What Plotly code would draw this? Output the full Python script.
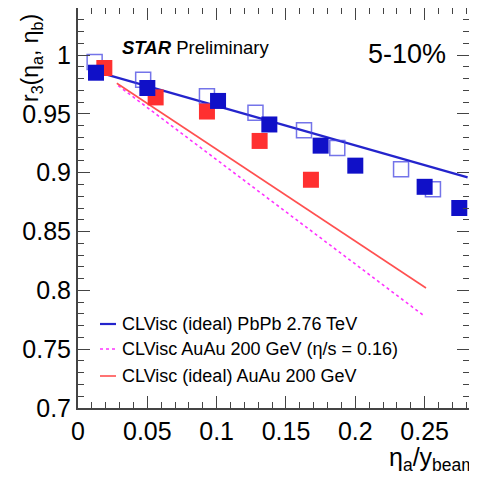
import plotly.graph_objects as go

# ---- data ----
x_pbpb_filled = [0.013, 0.050, 0.101, 0.138, 0.175, 0.200, 0.250, 0.275]
y_pbpb_filled = [0.985, 0.972, 0.961, 0.941, 0.923, 0.906, 0.888, 0.870]

x_pbpb_open = [0.012, 0.047, 0.093, 0.128, 0.163, 0.187, 0.233, 0.256]
y_pbpb_open = [0.994, 0.979, 0.965, 0.951, 0.936, 0.921, 0.903, 0.886]

x_auau = [0.019, 0.056, 0.093, 0.131, 0.168]
y_auau = [0.989, 0.964, 0.952, 0.927, 0.894]

x_model_pbpb = [0.010, 0.281]
y_model_pbpb = [0.987, 0.896]

x_model_auau_visc = [0.029, 0.250]
y_model_auau_visc = [0.974, 0.778]

x_model_auau_ideal = [0.028, 0.251]
y_model_auau_ideal = [0.976, 0.802]

legend_labels = [
    "CLVisc (ideal) PbPb 2.76 TeV",
    "CLVisc AuAu 200 GeV (η/s = 0.16)",
    "CLVisc (ideal) AuAu 200 GeV",
]

FONT = "Liberation Sans, Arial, Helvetica, sans-serif"
BLUE = "#1010c8"
BLUE_LINE = "#2424cc"
RED = "#ff3030"
RED_LINE = "#ff5050"
MAGENTA = "#ff33ff"

fig = go.Figure()

fig.add_trace(go.Scatter(x=x_model_pbpb, y=y_model_pbpb, mode="lines",
                         line=dict(color=BLUE_LINE, width=2.2), showlegend=False))
fig.add_trace(go.Scatter(x=x_model_auau_visc, y=y_model_auau_visc, mode="lines",
                         line=dict(color=MAGENTA, width=1.6, dash="dot"), showlegend=False))
fig.add_trace(go.Scatter(x=x_model_auau_ideal, y=y_model_auau_ideal, mode="lines",
                         line=dict(color=RED_LINE, width=1.6), showlegend=False))

fig.add_trace(go.Scatter(x=x_pbpb_open, y=y_pbpb_open, mode="markers",
                         marker=dict(symbol="square-open", size=15,
                                     color="rgba(70,70,225,0.75)",
                                     line=dict(width=1.5, color="rgba(70,70,225,0.75)")),
                         showlegend=False))
fig.add_trace(go.Scatter(x=x_auau, y=y_auau, mode="markers",
                         marker=dict(symbol="square", size=16, color=RED,
                                     line=dict(width=0)),
                         showlegend=False))
fig.add_trace(go.Scatter(x=x_pbpb_filled, y=y_pbpb_filled, mode="markers",
                         marker=dict(symbol="square", size=16, color=BLUE,
                                     line=dict(width=0)),
                         showlegend=False))

# the page body adds an 8px margin, so the figure is drawn 8px smaller
OFF = 8
W, H = 477 - OFF, 478 - OFF
L, R, T, B = 78 - OFF, 8, 0, 70
pw, ph = W - L - R, H - T - B


def px2paper_x(px):
    return (px - OFF - L) / pw


def px2paper_y(py):
    return (H - B - (py - OFF)) / ph


axis_common = dict(
    ticks="inside", ticklen=12, tickwidth=1.3, tickcolor="#444",
    showline=True, linecolor="#444", linewidth=2, mirror="allticks",
    showgrid=False, zeroline=False, automargin=False,
    tickfont=dict(family=FONT, size=25, color="black"),
    minor=dict(ticks="inside", ticklen=6, tickwidth=1.1, tickcolor="#444",
               dtick=0.01, showgrid=False),
)

fig.update_layout(
    width=W, height=H,
    margin=dict(l=L, r=R, t=T, b=B, pad=0),
    paper_bgcolor="white", plot_bgcolor="white",
    font=dict(family=FONT, color="black"),
    xaxis=dict(range=[0, 0.282], dtick=0.05, tick0=0, **axis_common),
    yaxis=dict(range=[0.7, 1.04], dtick=0.05, tick0=0.7, **axis_common),
    showlegend=False,
)

annotations = [
    dict(text="<b><i>STAR</i></b> Preliminary", xref="paper", yref="paper",
         x=px2paper_x(120), y=px2paper_y(47), xanchor="left", yanchor="middle",
         showarrow=False, font=dict(size=18.5, family=FONT, color="black")),
    dict(text="5-10%", xref="paper", yref="paper",
         x=px2paper_x(366), y=px2paper_y(54), xanchor="left", yanchor="middle",
         showarrow=False, font=dict(size=27, family=FONT, color="black")),
    dict(text="r<sub>3</sub>(η<sub>a</sub>, η<sub>b</sub>)", xref="paper", yref="paper",
         x=px2paper_x(31), y=px2paper_y(58), xanchor="center", yanchor="middle",
         textangle=-90, showarrow=False,
         font=dict(size=23, family=FONT, color="black")),
    dict(text="η<sub>a</sub>/y<sub>beam</sub>", xref="paper", yref="paper",
         x=px2paper_x(387), y=px2paper_y(459), xanchor="left", yanchor="middle",
         showarrow=False, font=dict(size=25, family=FONT, color="black")),
]

shapes = []
legend_rows_py = [324, 349, 376]
legend_styles = [
    dict(color=BLUE_LINE, width=2.2),
    dict(color=MAGENTA, width=1.6, dash="dot"),
    dict(color=RED_LINE, width=1.6),
]
for lab, py, st in zip(legend_labels, legend_rows_py, legend_styles):
    shapes.append(dict(type="line", xref="paper", yref="paper",
                       x0=px2paper_x(100), x1=px2paper_x(116),
                       y0=px2paper_y(py), y1=px2paper_y(py), line=st))
    annotations.append(dict(text=lab, xref="paper", yref="paper",
                            x=px2paper_x(120), y=px2paper_y(py),
                            xanchor="left", yanchor="middle", showarrow=False,
                            font=dict(size=18, family=FONT, color="black")))

fig.update_layout(annotations=annotations, shapes=shapes)

fig.write_html("out.html")
